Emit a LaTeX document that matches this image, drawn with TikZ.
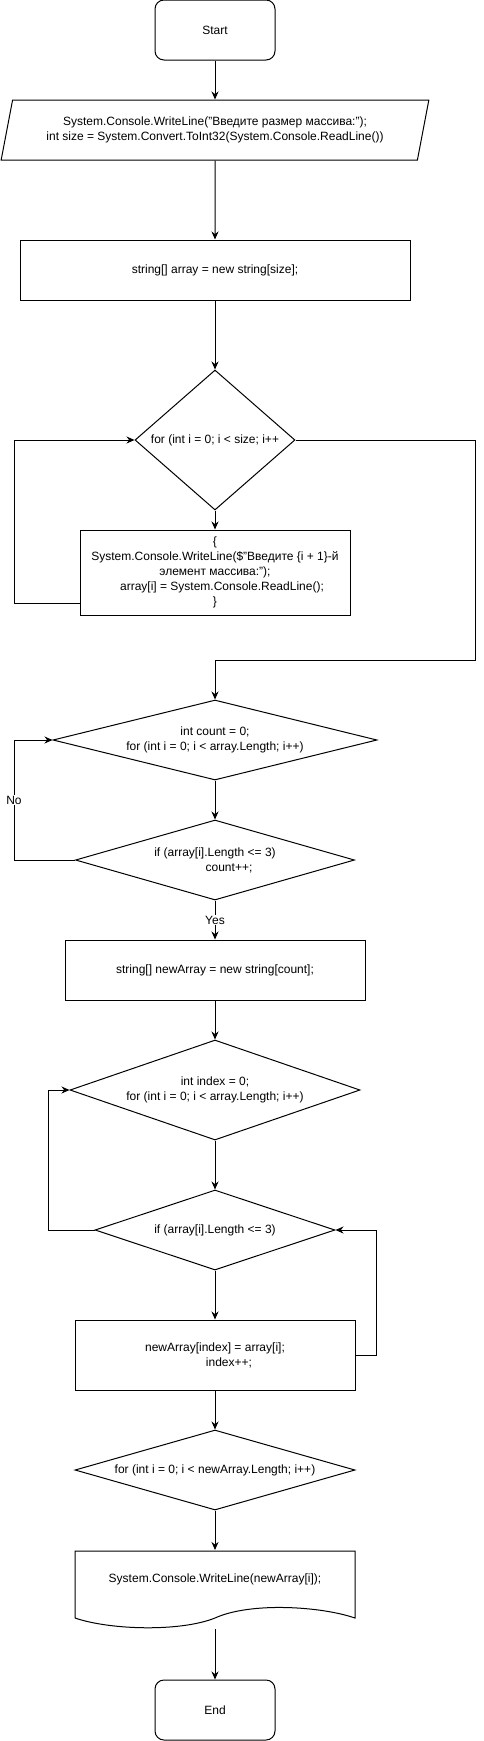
\documentclass[tikz,border=0pt]{standalone}
\usepackage{fontspec}
\setmainfont{Liberation Sans}
\usetikzlibrary{shapes.geometric,arrows.meta}

\begin{document}
\begin{tikzpicture}[
  x=1pt, y=-1pt,
  font=\fontsize{12}{15}\selectfont,
  line width=1pt,
  term/.style={draw, rounded corners=9pt, minimum width=120pt, minimum height=60pt, inner sep=0pt},
  io/.style={draw, trapezium, trapezium left angle=70, trapezium right angle=110, trapezium stretches=true,
    minimum width=430pt, minimum height=60pt, inner sep=0pt, align=center},
  box/.style 2 args={draw, minimum width=#1, minimum height=#2, inner sep=0pt, align=center},
  dec/.style 2 args={draw, diamond, minimum width=#1, minimum height=#2, inner sep=0pt},
  every label/.style={align=center, inner sep=0pt},
  arr/.style={-{Stealth[length=8pt, width=7pt]}},
  tag/.style={fill=white, inner sep=1pt}
]
\useasboundingbox (0,0) rectangle (484,1741);

\node[term] (start) at (215,30) {Start};
\node[io] (inp) at (215,130) {System.Console.WriteLine("Введите размер массива:");\\int size = System.Convert.ToInt32(System.Console.ReadLine())};
\node[box={390pt}{60pt}] (arr) at (215,270) {string[] array = new string[size];};
\node[dec={160pt}{140pt}, label={center:for (int i = 0; i < size; i++}] (for1) at (215,440) {};
\node[box={270pt}{85pt}] (body) at (215,572.5) {\{\\System.Console.WriteLine(\$"Введите \{i + 1\}-й\\элемент массива:");\\\hspace*{14pt}array[i] = System.Console.ReadLine();\\\}};

\node[dec={324pt}{80pt}, label={center:int count = 0;\\for (int i = 0; i < array.Length; i++)}] (cnt) at (215,740) {};
\node[dec={279pt}{80pt}, label={center:if (array[i].Length <= 3)\\\hspace*{28pt}count++;}] (ifc) at (215,860) {};
\node[box={300pt}{60pt}] (newarr) at (215,970) {string[] newArray = new string[count];};

\node[dec={290pt}{100pt}, label={center:int index = 0;\\for (int i = 0; i < array.Length; i++)}] (idx) at (215,1090) {};
\node[dec={240pt}{80pt}, label={center:if (array[i].Length <= 3)}] (ifi) at (215,1230) {};
\node[box={280pt}{70pt}] (copy) at (215,1355) {newArray[index] = array[i];\\\hspace*{28pt}index++;};

\node[dec={280pt}{80pt}, label={center:for (int i = 0; i < newArray.Length; i++)}] (outfor) at (215,1470) {};
\node[text height=9pt, text depth=23pt, minimum width=280pt, minimum height=78pt, inner sep=0pt] (out) at (215,1589.5) {System.Console.WriteLine(newArray[i]);};
\draw (75,1618) |- (355,1551) -- (355,1618) .. controls (320,1606) and (250,1602) .. (215,1618) .. controls (180,1632) and (110,1630) .. (75,1618);
\node[term] (end) at (215,1710) {End};

% main flow
\draw[arr] (start) -- (inp);
\draw[arr] (inp) -- (arr);
\draw[arr] (arr) -- (for1);
\draw[arr] (for1) -- (body);
\draw[arr] ([yshift=12pt]body.south west) -- ++(-65,0) |- (for1.west);
\draw[arr] (for1.east) -| (475,660) -| (cnt.north);
\draw[arr] (cnt) -- (ifc);
\draw[arr] (ifc.west) -- ++(-61,0) |- (cnt.west) node[pos=0.25, tag] {No};
\draw[arr] (ifc.south) -- (newarr.north) node[midway, tag] {Yes};
\draw[arr] (newarr) -- (idx);
\draw[arr] (idx) -- (ifi);
\draw[arr] (ifi.west) -- ++(-46,0) |- (idx.west);
\draw[arr] (ifi) -- (copy);
\draw[arr] (copy.east) -- ++(21,0) |- (ifi.east);
\draw[arr] (copy) -- (outfor);
\draw[arr] (outfor) -- (out);
\draw[arr] (out.south) -- (end.north);
\end{tikzpicture}
\end{document}
